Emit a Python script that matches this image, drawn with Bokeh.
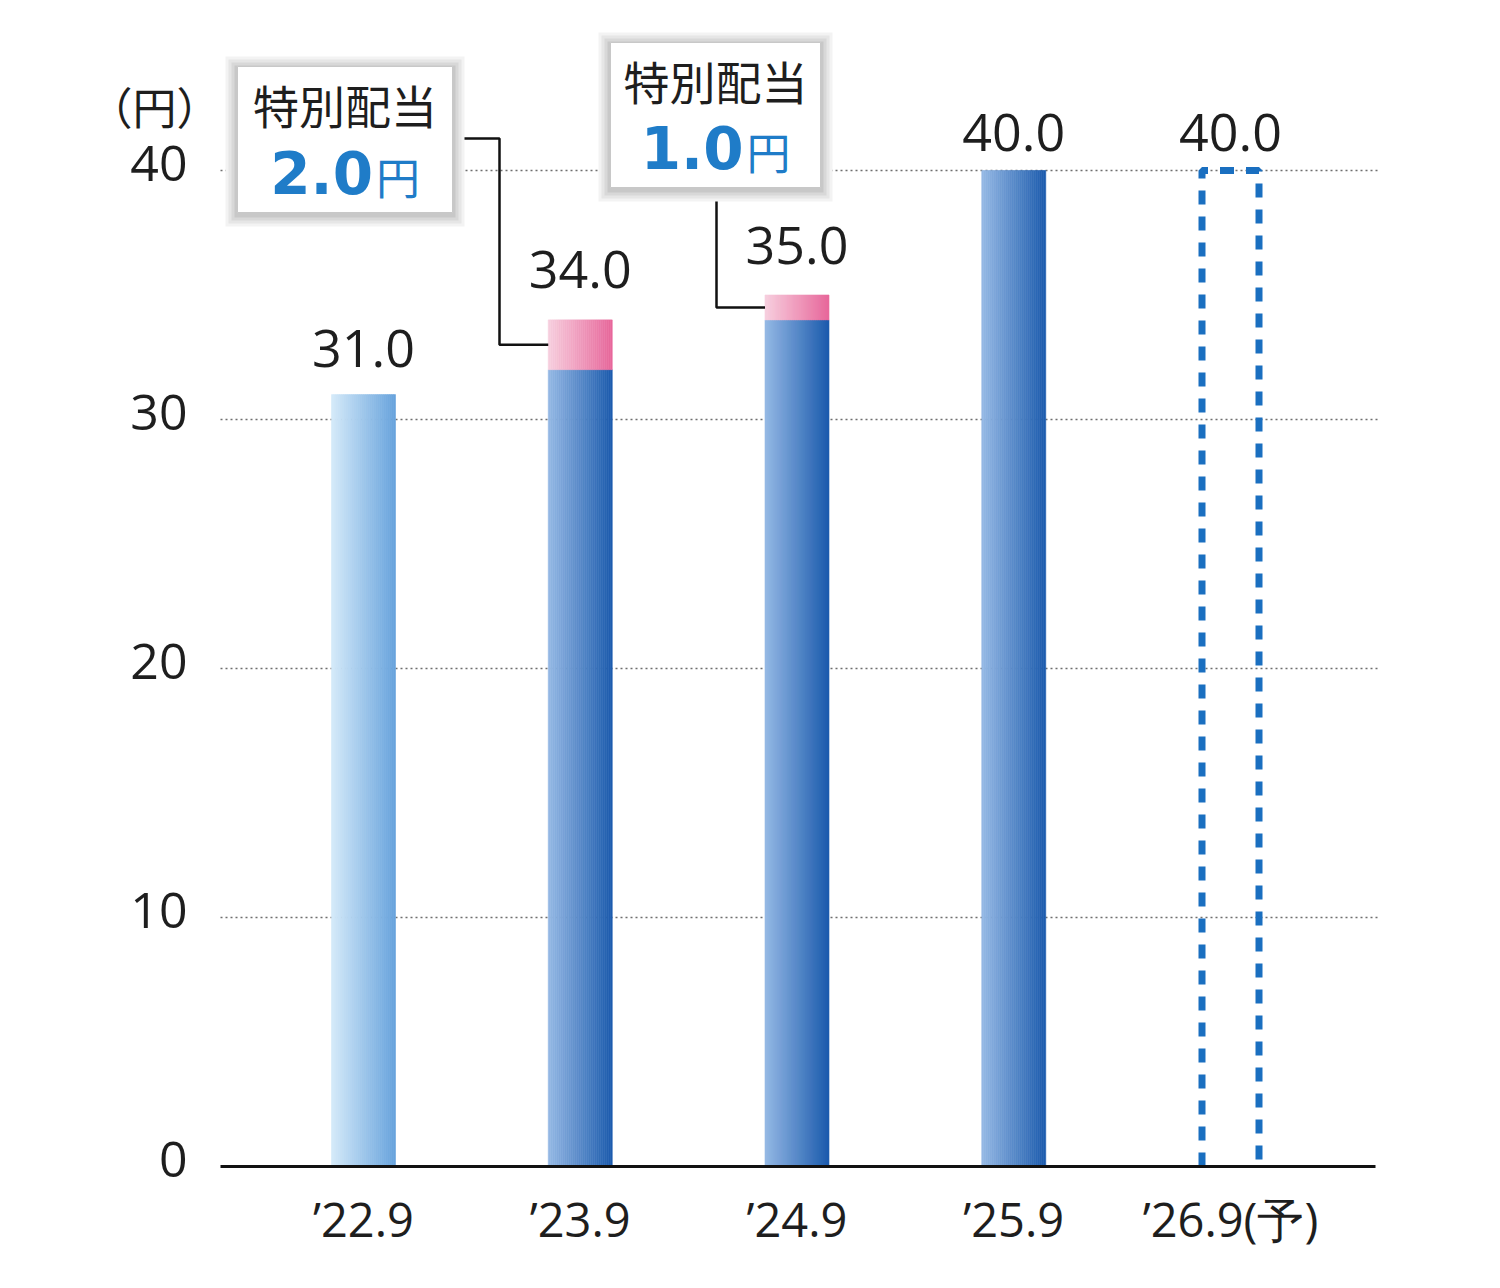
from bokeh.plotting import figure
from bokeh.models import ColumnDataSource, FixedTicker
from bokeh.core.properties import value
from bokeh.embed import file_html
from bokeh.resources import INLINE

# ---------------- data ----------------
categories = ["’22.9", "’23.9", "’24.9", "’25.9", "’26.9(予)"]
ordinary = [31.0, 32.0, 34.0, 40.0, 40.0]     # ordinary dividend (yen)
special = [0.0, 2.0, 1.0, 0.0, 0.0]           # special dividend (yen)
is_forecast = [False, False, False, False, True]
value_labels = ["31.0", "34.0", "35.0", "40.0", "40.0"]
y_ticks = [0, 10, 20, 30, 40]
y_tick_labels = ["0", "10", "20", "30", "40"]
grid_ticks = [10, 20, 30, 40]
unit_label = "（円）"
callout_title = "特別配当"
callout_unit = "円"

# ---------------- layout (page pixels) ----------------
FIG_W, FIG_H = 1484, 1272
F_LEFT, F_RIGHT, F_TOP, F_BOTTOM = 100, 1378, 20, 1186   # frame edges on page
AXIS_LEFT, AXIS_RIGHT = 220, 1375
Y0_PAGE = 1166
FIRST_CENTER = 363
X_STEP = 216.75
Y_PX = 24.9
x_start = -(FIRST_CENTER - F_LEFT) / X_STEP
x_end = x_start + (F_RIGHT - F_LEFT) / X_STEP
y_start = -(F_BOTTOM - Y0_PAGE) / Y_PX
y_end = (Y0_PAGE - F_TOP) / Y_PX


def X(px):
    return x_start + (px - F_LEFT) / X_STEP


def Y(py):
    return (Y0_PAGE - py) / Y_PX


BAR_W = 64 / X_STEP
DASH_W = 57 / X_STEP
N_SLICES = 32
label_gap = [46, 50, 50, 38, 38]

FONT_NUM = "Open Sans"
FONT_JP = "Noto Sans CJK JP"
BLUE_TEXT = "#1f7cc8"
TXT = "#1e1e1e"


def lerp(c1, c2, t):
    a = [int(c1[i:i + 2], 16) for i in (1, 3, 5)]
    b = [int(c2[i:i + 2], 16) for i in (1, 3, 5)]
    return "#%02x%02x%02x" % tuple(round(a[k] + (b[k] - a[k]) * t) for k in range(3))


GRAD_FIRST = ("#d3e9f9", "#68a3dc")
GRAD_BLUE = ("#94b8e4", "#1d5cae")
GRAD_PINK = ("#f7cfde", "#e8689c")

p = figure(width=FIG_W, height=FIG_H, output_backend="svg", toolbar_location=None,
           x_range=(x_start, x_end), y_range=(y_start, y_end),
           min_border_left=F_LEFT, min_border_right=FIG_W - F_RIGHT,
           min_border_top=F_TOP, min_border_bottom=FIG_H - F_BOTTOM)
p.outline_line_color = None
p.background_fill_color = "white"
p.border_fill_color = "white"
p.grid.visible = False
p.yaxis.visible = False

# x axis (labels only; the baseline is drawn below)
p.xaxis.ticker = FixedTicker(ticks=list(range(len(categories))))
p.xaxis.major_label_overrides = {i: c for i, c in enumerate(categories)}
p.xaxis.axis_line_color = None
p.xaxis.major_tick_line_color = None
p.xaxis.minor_tick_line_color = None
p.xaxis.major_tick_out = 0
p.xaxis.major_label_standoff = 0
p.xaxis.major_label_text_font = FONT_NUM
p.xaxis.major_label_text_font_size = "47px"
p.xaxis.major_label_text_color = TXT

# dotted gridlines
gx0, gx1 = X(AXIS_LEFT), X(F_RIGHT)
p.segment(x0=[gx0] * len(grid_ticks), x1=[gx1] * len(grid_ticks), y0=grid_ticks, y1=grid_ticks,
          line_color="#6f6f6f", line_dash="2 3", line_width=1.5)

# y tick labels
p.text([X(187)] * len(y_ticks), y_ticks, text=y_tick_labels, text_align="right",
       text_baseline="middle", y_offset=-7, text_font=value(FONT_NUM), text_font_size="50px",
       text_color=TXT)
# unit label
p.text([X(154)], [Y(110)], text=[unit_label], text_align="center", text_baseline="middle",
       y_offset=-5, text_font=value(FONT_JP), text_font_size="44px", text_color=TXT)

# gradient bars built from slices
sl = dict(left=[], right=[], bottom=[], top=[], color=[])
for i, (o, s, fc) in enumerate(zip(ordinary, special, is_forecast)):
    if fc:
        continue
    grad = GRAD_FIRST if i == 0 else GRAD_BLUE
    x0 = i - BAR_W / 2
    dw = BAR_W / N_SLICES
    for j in range(N_SLICES):
        t = j / (N_SLICES - 1)
        sl["left"].append(x0 + j * dw)
        sl["right"].append(x0 + (j + 1) * dw)
        sl["bottom"].append(0)
        sl["top"].append(o)
        sl["color"].append(lerp(grad[0], grad[1], t))
        if s > 0:
            sl["left"].append(x0 + j * dw)
            sl["right"].append(x0 + (j + 1) * dw)
            sl["bottom"].append(o)
            sl["top"].append(o + s)
            sl["color"].append(lerp(GRAD_PINK[0], GRAD_PINK[1], t))
p.quad(left="left", right="right", bottom="bottom", top="top", source=ColumnDataSource(sl),
       fill_color="color", line_color="color", line_width=0.6)

# forecast bar: dashed outline
for i, (o, s, fc) in enumerate(zip(ordinary, special, is_forecast)):
    if fc:
        v = o + s
        p.line([i - DASH_W / 2, i - DASH_W / 2, i + DASH_W / 2, i + DASH_W / 2], [0, v, v, 0],
               line_color="#1a6fc0", line_width=7, line_dash="14 12")

# x axis baseline
p.segment(x0=[X(AXIS_LEFT)], x1=[X(AXIS_RIGHT)], y0=[0], y1=[0], line_color="#111111",
          line_width=3)

# value labels
totals = [o + s for o, s in zip(ordinary, special)]
for i, (t, lab) in enumerate(zip(totals, value_labels)):
    p.text([i], [t], text=[lab], text_align="center", text_baseline="alphabetic",
           y_offset=-label_gap[i], text_font=value(FONT_NUM), text_font_size="52px",
           text_color=TXT)

# callout boxes for special dividends
callout_boxes = {1: (237, 452, 66, 212), 2: (610, 820, 42, 187)}
callout_from = {1: ("right", 138, 499), 2: ("bottom", 716, None)}
for i, (l, r, t, b) in callout_boxes.items():
    o, s = ordinary[i], special[i]
    ty = o + s / 2
    tx = i - BAR_W / 2
    kind, a, elbow = callout_from[i]
    if kind == "right":
        xs = [X(r), X(elbow), X(elbow), tx]
        ys = [Y(a), Y(a), ty, ty]
    else:
        xs = [X(a), X(a), tx]
        ys = [Y(b), ty, ty]
    p.line(xs, ys, line_color="#111111", line_width=2.5)
    # soft shadow
    for pad, col in ((12, "#f3f3f3"), (9, "#e6e6e6"), (6, "#d8d8d8"), (3, "#c8c8c8")):
        p.quad(left=[X(l - pad)], right=[X(r + pad)], top=[Y(t - pad + 2)], bottom=[Y(b + pad + 2)],
               fill_color=col, line_color=None)
    p.quad(left=[X(l)], right=[X(r)], top=[Y(t)], bottom=[Y(b)],
           fill_color="white", line_color="#c8c8c8", line_width=1)
    cx = (l + r) / 2
    p.text([X(cx)], [Y(t + 37)], text=[callout_title], text_align="center", text_baseline="middle",
           text_font=value(FONT_JP), text_font_size="46px", text_color=TXT)
    p.text([X(cx + 28)], [Y(b - 17)], text=["%.1f" % s], text_align="right",
           text_baseline="alphabetic", y_offset=-23, text_font=value("DejaVu Sans"),
           text_font_style="bold", text_font_size="58px", text_color=BLUE_TEXT)
    p.text([X(cx + 31)], [Y(b - 17)], text=[callout_unit], text_align="left",
           text_baseline="alphabetic", y_offset=-20, text_font=value(FONT_JP),
           text_font_size="44px", text_color=BLUE_TEXT)

open("out.html", "w").write(file_html(p, INLINE))
